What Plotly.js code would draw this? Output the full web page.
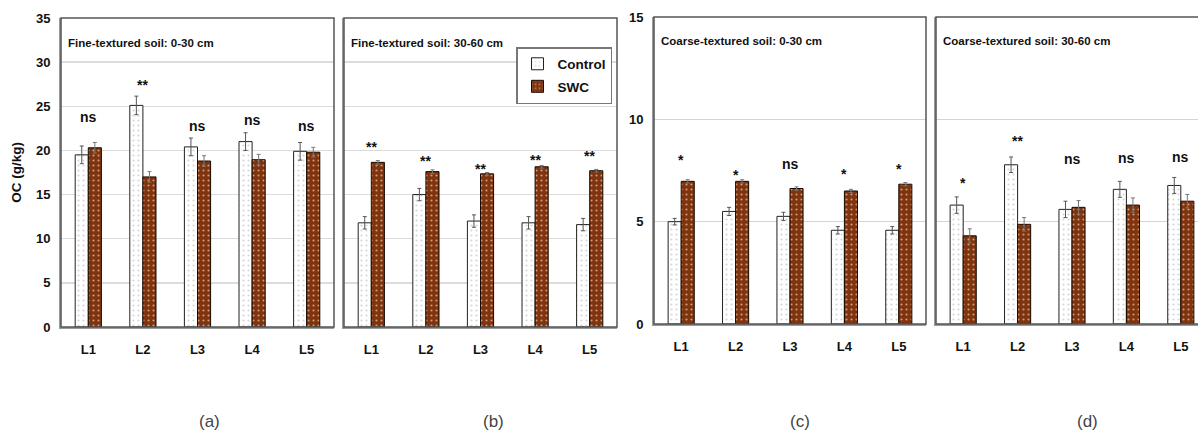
<!DOCTYPE html>
<html><head><meta charset="utf-8">
<script src="https://cdn.plot.ly/plotly-3.0.1.min.js"></script>
<style>html,body{margin:0;padding:0;overflow:hidden;background:#fff}#chart{width:1212px;height:432px}</style>
</head><body><div id="chart"></div><script>
const categories = ['L1','L2','L3','L4','L5'];
const seriesNames = ['Control','SWC'];
// (a) Fine-textured soil: 0-30 cm
const ctrlA = [19.5, 25.1, 20.4, 21.0, 19.9];
const ctrlErrA = [1.0, 1.05, 1.0, 1.0, 1.0];
const swcA = [20.3, 17.0, 18.8, 18.95, 19.8];
const swcErrA = [0.6, 0.6, 0.6, 0.6, 0.55];
const sigA = ['ns','**','ns','ns','ns'];
const sigPosA = [23.8, 27.8, 22.8, 23.5, 22.8];
// (b) Fine-textured soil: 30-60 cm
const ctrlB = [11.8, 15.0, 12.0, 11.8, 11.6];
const ctrlErrB = [0.7, 0.7, 0.7, 0.7, 0.7];
const swcB = [18.65, 17.6, 17.35, 18.15, 17.7];
const swcErrB = [0.2, 0.2, 0.15, 0.15, 0.15];
const sigB = ['**','**','**','**','**'];
const sigPosB = [20.7, 19.1, 18.2, 19.2, 19.7];
// (c) Coarse-textured soil: 0-30 cm
const ctrlC = [5.0, 5.5, 5.26, 4.58, 4.58];
const ctrlErrC = [0.16, 0.2, 0.2, 0.18, 0.18];
const swcC = [6.97, 6.97, 6.62, 6.5, 6.83];
const swcErrC = [0.08, 0.08, 0.08, 0.08, 0.08];
const sigC = ['*','*','ns','*','*'];
const sigPosC = [8.14, 7.44, 7.8, 7.49, 7.73];
// (d) Coarse-textured soil: 30-60 cm
const ctrlD = [5.81, 7.78, 5.6, 6.58, 6.77];
const ctrlErrD = [0.4, 0.38, 0.4, 0.39, 0.39];
const swcD = [4.31, 4.87, 5.7, 5.81, 6.0];
const swcErrD = [0.34, 0.33, 0.33, 0.35, 0.33];
const sigD = ['*','**','ns','ns','ns'];
const sigPosD = [7.03, 9.09, 8.05, 8.1, 8.17];

const panelTitles = ['Fine-textured soil: 0-30 cm','Fine-textured soil: 30-60 cm','Coarse-textured soil: 0-30 cm','Coarse-textured soil: 30-60 cm'];
const panelLetters = ['(a)','(b)','(c)','(d)'];
const yTitle = 'OC (g/kg)';

const W = 1212, H = 432;
const FN = 'Liberation Sans Narrow, Arial Narrow, Liberation Sans, sans-serif';
const BROWN = '#7e3410';

const panels = [
  {ctrl: ctrlA, ce: ctrlErrA, swc: swcA, se: swcErrA, sig: sigA, sp: sigPosA, px: [61, 334], py: [18, 327], yr: 35, labels: true},
  {ctrl: ctrlB, ce: ctrlErrB, swc: swcB, se: swcErrB, sig: sigB, sp: sigPosB, px: [344, 617], py: [18, 327], yr: 35, labels: false},
  {ctrl: ctrlC, ce: ctrlErrC, swc: swcC, se: swcErrC, sig: sigC, sp: sigPosC, px: [654, 926], py: [17, 324], yr: 15, labels: true},
  {ctrl: ctrlD, ce: ctrlErrD, swc: swcD, se: swcErrD, sig: sigD, sp: sigPosD, px: [936, 1208], py: [17, 324], yr: 15, labels: false}
];
const titlePos = [[66, 42.5], [349, 42.5], [659, 41], [941, 41]];
const letterX = [210, 493, 800, 1087];

const data = [];
const layout = {
  width: W, height: H, autosize: false,
  margin: {l: 0, r: 0, t: 0, b: 0},
  paper_bgcolor: '#fff', plot_bgcolor: '#fff',
  barmode: 'group', bargap: 0.52, bargroupgap: 0,
  showlegend: true,
  legend: {x: 516 / W, y: 1 - 47 / H, xanchor: 'left', yanchor: 'top',
    bgcolor: '#fff', bordercolor: '#777', borderwidth: 1.5,
    font: {family: FN, size: 13.5, color: '#111', weight: 'bold'},
    itemwidth: 30, tracegroupgap: 2},
  annotations: [], shapes: []
};

panels.forEach((p, i) => {
  const n = i === 0 ? '' : String(i + 1);
  const xa = 'x' + n, ya = 'y' + n;
  data.push({
    type: 'bar', name: seriesNames[0], x: categories, y: p.ctrl, xaxis: xa, yaxis: ya,
    legendgroup: 'c', showlegend: i === 0,
    marker: {color: '#fff', line: {color: '#222', width: 1},
      pattern: {shape: '.', bgcolor: '#fff', fgcolor: '#d6d6d6', size: 5, solidity: 0.15}},
    error_y: {type: 'data', array: p.ce, visible: true, color: '#555', thickness: 1, width: 2}
  });
  data.push({
    type: 'bar', name: seriesNames[1], x: categories, y: p.swc, xaxis: xa, yaxis: ya,
    legendgroup: 's', showlegend: i === 0,
    marker: {color: BROWN, line: {color: '#1a0a00', width: 1},
      pattern: {shape: '.', bgcolor: BROWN, fgcolor: '#d69b6c', size: 5, solidity: 0.15}},
    error_y: {type: 'data', array: p.se, visible: true, color: '#777', thickness: 1, width: 2}
  });
  const dom = [p.px[0] / W, p.px[1] / W];
  const ydom = [1 - p.py[1] / H, 1 - p.py[0] / H];
  layout['xaxis' + n] = {
    domain: dom, anchor: ya, type: 'category', range: [-0.5, 4.5],
    showline: true, linecolor: '#9a9a9a', linewidth: 2,
    ticks: 'outside', ticklen: 9, tickcolor: 'rgba(0,0,0,0)',
    tickfont: {family: FN, size: 13, color: '#111', weight: 'bold'},
    showgrid: false, zeroline: false, fixedrange: true
  };
  layout['yaxis' + n] = {
    domain: ydom, anchor: xa, range: [0, p.yr], dtick: 5, tick0: 0,
    showline: true, linecolor: '#9a9a9a', linewidth: 2,
    showgrid: true, gridcolor: i < 2 ? '#dcdcdc' : '#d4d4d4', gridwidth: i < 2 ? 1.5 : 1, zeroline: false,
    showticklabels: p.labels, ticks: p.labels ? 'outside' : '', ticklen: 6, tickcolor: 'rgba(0,0,0,0)',
    tickfont: {family: FN, size: 13, color: '#111', weight: 'bold'},
    fixedrange: true
  };
  if (i === 0) {
    layout['yaxis' + n].title = {text: yTitle, font: {family: 'Liberation Sans, Arial, sans-serif', size: 13.5, color: '#111', weight: 'bold'}, standoff: 11};
  }
  layout.shapes.push({type: 'rect', xref: xa + ' domain', yref: ya + ' domain', x0: 0, x1: 1, y0: 0, y1: 1,
    line: {color: '#555', width: 1.5}, fillcolor: 'rgba(0,0,0,0)', layer: 'above'});
  p.sig.forEach((s, k) => {
    const star = s.indexOf('*') >= 0;
    layout.annotations.push({xref: xa, yref: ya, x: categories[k], y: p.sp[k], text: s, showarrow: false,
      xanchor: 'center', yanchor: 'middle', yshift: star ? -3 : 0,
      font: {family: FN, size: 14, color: '#111', weight: 'bold'}});
  });
  layout.annotations.push({xref: 'paper', yref: 'paper', x: titlePos[i][0] / W, y: 1 - titlePos[i][1] / H,
    xanchor: 'left', yanchor: 'middle', text: panelTitles[i], showarrow: false,
    font: {family: FN, size: 11.5, color: '#111', weight: 'bold'}});
  layout.annotations.push({xref: 'paper', yref: 'paper', x: letterX[i] / W, y: 1 - 421 / H,
    xanchor: 'center', yanchor: 'middle', text: panelLetters[i], showarrow: false,
    font: {family: FN, size: 17, color: '#444'}});
});

Plotly.newPlot('chart', data, layout, {displayModeBar: false, staticPlot: true});
</script></body></html>
